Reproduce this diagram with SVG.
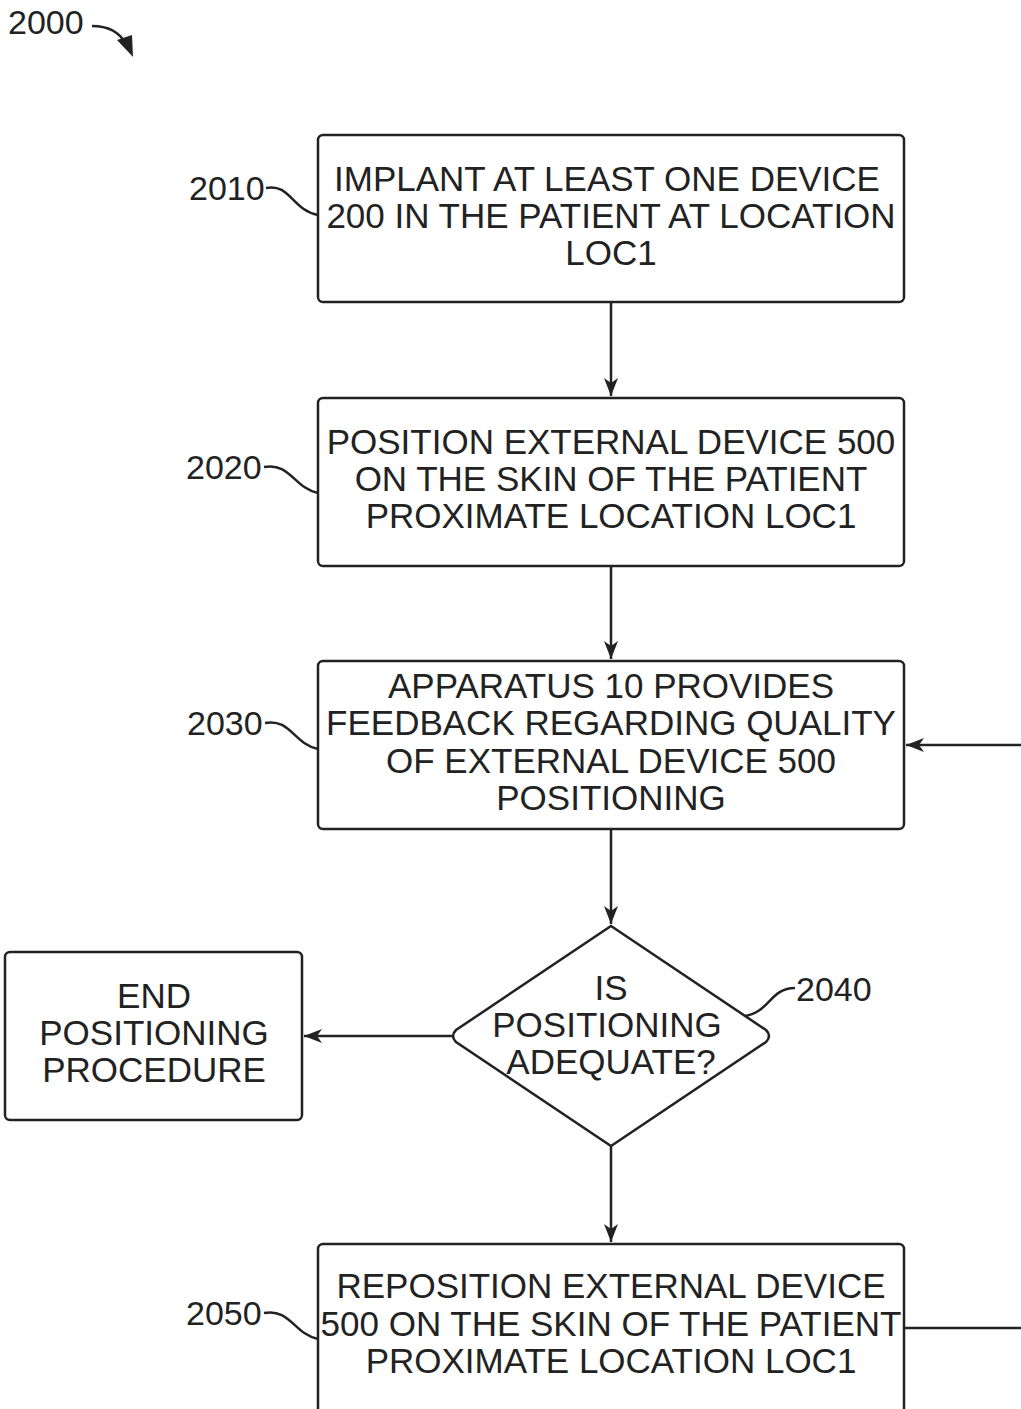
<svg xmlns="http://www.w3.org/2000/svg" width="1021" height="1409" viewBox="0 0 1021 1409">
<style>
.box{fill:#fff;stroke:#222;stroke-width:2.5}
.ln{fill:none;stroke:#222;stroke-width:2.5}
.t{font-family:"Liberation Sans",Arial,sans-serif;font-size:35px;fill:#222;text-anchor:middle}
.lb{font-family:"Liberation Sans",Arial,sans-serif;font-size:34px;fill:#222}
</style>
<defs>
<marker id="ah" viewBox="0 0 18 14" refX="18" refY="7" markerWidth="18" markerHeight="14" markerUnits="userSpaceOnUse" orient="auto">
<path d="M0,0 L18,7 L0,14 L5,7 Z" fill="#222"/>
</marker>
</defs>
<g id="connectors">
<path class="ln" d="M611,302 V396" marker-end="url(#ah)"/>
<path class="ln" d="M611,566 V659" marker-end="url(#ah)"/>
<path class="ln" d="M611,829 V924" marker-end="url(#ah)"/>
<path class="ln" d="M453,1036 H304" marker-end="url(#ah)"/>
<path class="ln" d="M611,1146 V1242" marker-end="url(#ah)"/>
<path class="ln" d="M905,1328 H1021"/>
<path class="ln" d="M1021,745 H906" marker-end="url(#ah)"/>
</g>
<g id="label2000">
<text class="lb" x="8" y="34">2000</text>
<path class="ln" d="M92,26 C110,26 120,33 126,44"/>
<path d="M117,40 L133,57 L132,35 Z" fill="#222"/>
</g>
<g id="n2010">
<rect class="box" x="318" y="135" width="586" height="167" rx="5"/>
<text class="t" x="607" y="191">IMPLANT AT LEAST ONE DEVICE</text>
<text class="t" x="611" y="228">200 IN THE PATIENT AT LOCATION</text>
<text class="t" x="611" y="265">LOC1</text>
<text class="lb" x="189" y="200">2010</text>
<path class="ln" d="M266,188 C290,183 292,210 318,215"/>
</g>
<g id="n2020">
<rect class="box" x="318" y="398" width="586" height="168" rx="5"/>
<text class="t" x="611" y="454">POSITION EXTERNAL DEVICE 500</text>
<text class="t" x="611" y="491">ON THE SKIN OF THE PATIENT</text>
<text class="t" x="611" y="528">PROXIMATE LOCATION LOC1</text>
<text class="lb" x="186" y="479">2020</text>
<path class="ln" d="M264,467 C290,462 294,488 318,493"/>
</g>
<g id="n2030">
<rect class="box" x="318" y="661" width="586" height="168" rx="5"/>
<text class="t" x="611" y="698">APPARATUS 10 PROVIDES</text>
<text class="t" x="611" y="735">FEEDBACK REGARDING QUALITY</text>
<text class="t" x="611" y="773">OF EXTERNAL DEVICE 500</text>
<text class="t" x="611" y="810">POSITIONING</text>
<text class="lb" x="187" y="735">2030</text>
<path class="ln" d="M265,723 C290,718 294,744 318,749"/>
</g>
<g id="n2040">
<path class="box" d="M611,926 L766,1030 Q772,1036 766,1042 L611,1146 L456,1042 Q450,1036 456,1030 Z"/>
<text class="t" x="611" y="1000">IS</text>
<text class="t" x="607" y="1037">POSITIONING</text>
<text class="t" x="611" y="1074">ADEQUATE?</text>
<text class="lb" x="796" y="1001">2040</text>
<path class="ln" d="M795,988 C770,988 770,1012 745,1016"/>
</g>
<g id="nend">
<rect class="box" x="5" y="952" width="297" height="168" rx="5"/>
<text class="t" x="154" y="1008">END</text>
<text class="t" x="154" y="1045">POSITIONING</text>
<text class="t" x="154" y="1082">PROCEDURE</text>
</g>
<g id="n2050">
<rect class="box" x="318" y="1244" width="586" height="190" rx="5"/>
<text class="t" x="611" y="1298">REPOSITION EXTERNAL DEVICE</text>
<text class="t" x="611" y="1336">500 ON THE SKIN OF THE PATIENT</text>
<text class="t" x="611" y="1373">PROXIMATE LOCATION LOC1</text>
<text class="lb" x="186" y="1325">2050</text>
<path class="ln" d="M264,1313 C290,1308 294,1334 318,1339"/>
</g>
</svg>
